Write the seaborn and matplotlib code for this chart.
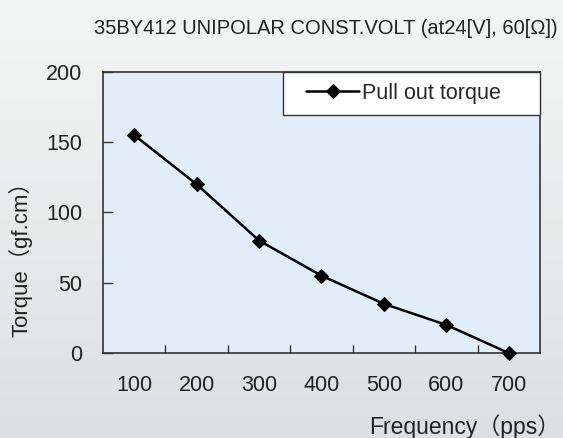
import matplotlib
import numpy as np
import pandas as pd
import seaborn as sns

matplotlib.use('agg')
import matplotlib.pyplot as plt  # noqa
from matplotlib.colors import LinearSegmentedColormap  # noqa
from matplotlib.patches import Rectangle  # noqa

# data
frequency = [100, 200, 300, 400, 500, 600, 700]
torque = [155, 120, 80, 55, 35, 20, 0]
series_name = "Pull out torque"
title = "35BY412 UNIPOLAR CONST.VOLT (at24[V], 60[\u03a9])"
xlabel = "Frequency\uff08pps\uff09"
ylabel = "Torque\uff08gf.cm\uff09"

sns.set_style("white")
plt.rcParams['font.family'] = ['Liberation Sans', 'Noto Sans CJK SC', 'DejaVu Sans']

df = pd.DataFrame({"frequency": frequency, "torque": torque})

fig = plt.figure(figsize=(5.63, 4.38), dpi=100)

# grey gradient behind everything
bg = fig.add_axes([0, 0, 1, 1], zorder=-10)
grad = LinearSegmentedColormap.from_list("bg", ["#f4f5f5", "#dedfe0"])
bg.imshow(np.linspace(0, 1, 256)[:, None], aspect="auto", cmap=grad,
          extent=[0, 1, 0, 1])
bg.set_axis_off()

ax = fig.add_axes([0.183, 0.194, 0.776, 0.642])
ax.set_facecolor("#e1eef9")
sns.lineplot(data=df, x="frequency", y="torque", ax=ax, color="black",
             marker="D", markersize=7, markeredgecolor="black",
             linewidth=1.8, label=series_name, clip_on=False, zorder=3)

ax.set_xlim(50, 750)
ax.set_ylim(0, 200)
# ticks sit between the categories, labels at the categories
ax.set_xticks([f + 50 for f in frequency[:-1]])
ax.set_xticklabels([])
ax.set_xticks(frequency, minor=True)
ax.set_xticklabels([str(f) for f in frequency], minor=True)
ax.set_yticks([0, 50, 100, 150, 200])
ax.tick_params(axis="x", which="major", direction="in", length=6, width=1,
               color="#333333", bottom=True)
ax.tick_params(axis="x", which="minor", length=0, pad=16, labelsize=15.5,
               labelcolor="#222222")
ax.tick_params(axis="y", direction="in", length=7, width=1, color="#333333",
               left=True, pad=15, labelsize=15.5, labelcolor="#222222")
for sp in ax.spines.values():
    sp.set_color("#333333")
    sp.set_linewidth(1.2)

ax.set_xlabel(xlabel, fontsize=16.5, color="#222222", ha="right", va="center")
ax.xaxis.set_label_coords(1.046, -0.263)
ax.set_ylabel(ylabel, fontsize=16, color="#222222", va="center")
ax.yaxis.set_label_coords(-0.19, 0.355)

# legend box drawn by hand so the padding can match, legend sits inside it
ax.add_patch(Rectangle((0.412, 0.847), 0.588, 0.153, transform=ax.transAxes,
                       facecolor="white", edgecolor="#333333", lw=1.0,
                       zorder=4, clip_on=False))
leg = ax.legend(loc="center left", bbox_to_anchor=(0.4645, 0.9235),
                borderaxespad=0, borderpad=0, frameon=False, fontsize=15.5,
                handlelength=2.47, handletextpad=0.14)
leg.set_zorder(5)

fig.text(0.578, 0.934, title, ha="center", va="center", fontsize=14.5,
         color="#222222")

fig.savefig("out.png", dpi=100)
